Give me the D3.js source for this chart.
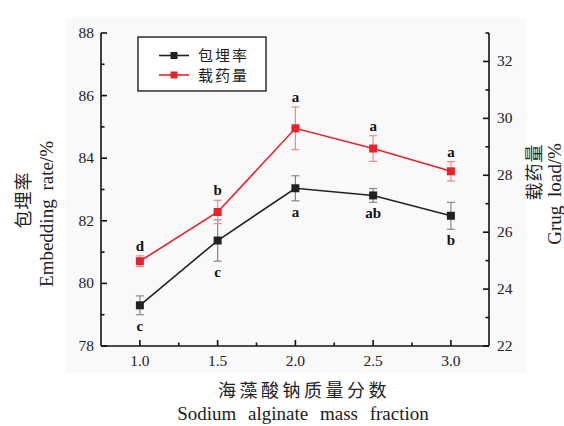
<!DOCTYPE html>
<html><head><meta charset="utf-8">
<script src="https://cdn.jsdelivr.net/npm/d3@7/dist/d3.min.js"></script>
<style>body{margin:0;background:#fff}svg{display:block}</style>
</head><body>
<script>
const xValues = [1.0, 1.5, 2.0, 2.5, 3.0];
const embedRate = [79.3, 81.37, 83.04, 82.81, 82.16];
const embedErr = [0.3, 0.66, 0.4, 0.22, 0.43];
const embedLetters = ["c", "c", "a", "ab", "b"];
const drugLoad = [24.98, 26.71, 29.65, 28.94, 28.14];
const drugErr = [0.19, 0.41, 0.75, 0.45, 0.34];
const drugLetters = ["d", "b", "a", "a", "a"];
const xTicks = [1.0, 1.5, 2.0, 2.5, 3.0];
const leftTicks = [78, 80, 82, 84, 86, 88];
const rightTicks = [22, 24, 26, 28, 30, 32];
const legendNames = ["包埋率", "载药量"];

const W = 564, H = 426;
const serif = "'Liberation Serif','DejaVu Serif',serif";
const cjk = "'Noto Sans CJK SC',sans-serif";
const svg = d3.select("body").append("svg").attr("width", W).attr("height", H);
svg.append("rect").attr("x", 65).attr("y", 18).attr("width", 462).attr("height", 355).attr("fill", "#f9f9f9");

const L = 101, R = 489, T = 33, B = 346;
const x = d3.scaleLinear().domain([0.75, 3.245]).range([L, R]);
const yL = d3.scaleLinear().domain([78, 88]).range([B, T]);
const yR = d3.scaleLinear().domain([22, 33]).range([B, T]);

// axes
const ax = svg.append("g").attr("stroke", "#111").attr("stroke-width", 1.6);
ax.append("line").attr("x1", L).attr("x2", L).attr("y1", T).attr("y2", B);
ax.append("line").attr("x1", R).attr("x2", R).attr("y1", T).attr("y2", B);
ax.append("line").attr("x1", L).attr("x2", R).attr("y1", B).attr("y2", B);

const minorL = d3.range(79, 88, 2);
const minorR = d3.range(23, 34, 2);
const minorX = [1.25, 1.75, 2.25, 2.75];
leftTicks.forEach(v => ax.append("line").attr("x1", L).attr("x2", L + 6).attr("y1", yL(v)).attr("y2", yL(v)));
minorL.forEach(v => ax.append("line").attr("x1", L).attr("x2", L + 3.5).attr("y1", yL(v)).attr("y2", yL(v)));
rightTicks.forEach(v => ax.append("line").attr("x1", R).attr("x2", R - 6).attr("y1", yR(v)).attr("y2", yR(v)));
minorR.forEach(v => ax.append("line").attr("x1", R).attr("x2", R - 3.5).attr("y1", yR(v)).attr("y2", yR(v)));
xTicks.forEach(v => ax.append("line").attr("x1", x(v)).attr("x2", x(v)).attr("y1", B).attr("y2", B - 6));
minorX.forEach(v => ax.append("line").attr("x1", x(v)).attr("x2", x(v)).attr("y1", B).attr("y2", B - 3.5));

const tl = svg.append("g").attr("font-family", serif).attr("font-size", 15.5).attr("fill", "#222");
leftTicks.forEach(v => tl.append("text").attr("x", L - 7).attr("y", yL(v) + 5).attr("text-anchor", "end").text(v));
rightTicks.forEach(v => tl.append("text").attr("x", R + 8).attr("y", yR(v) + 5).text(v));
xTicks.forEach(v => tl.append("text").attr("x", x(v)).attr("y", B + 20).attr("text-anchor", "middle").text(d3.format(".1f")(v)));

// axis titles
svg.append("text").attr("x", 304).attr("y", 397).attr("text-anchor", "middle").attr("font-family", cjk)
  .attr("font-size", 18).attr("letter-spacing", 3.5).attr("fill", "#222").text("海藻酸钠质量分数");
svg.append("text").attr("x", 303).attr("y", 420).attr("text-anchor", "middle").attr("font-family", serif)
  .attr("font-size", 19).attr("word-spacing", 7).attr("fill", "#222").text("Sodium alginate mass fraction");
svg.append("text").attr("transform", "translate(30,200) rotate(-90)").attr("text-anchor", "middle").attr("font-family", cjk)
  .attr("font-size", 18).attr("letter-spacing", 1).attr("fill", "#222").text("包埋率");
svg.append("text").attr("transform", "translate(53,214) rotate(-90)").attr("text-anchor", "middle").attr("font-family", serif)
  .attr("font-size", 19).attr("word-spacing", 4).attr("fill", "#222").text("Embedding rate/%");
svg.append("text").attr("transform", "translate(541,172) rotate(-90)").attr("text-anchor", "middle").attr("font-family", cjk)
  .attr("font-size", 18).attr("letter-spacing", 1).attr("fill", "#222").text("载药量");
svg.append("text").attr("transform", "translate(561,194) rotate(-90)").attr("text-anchor", "middle").attr("font-family", serif)
  .attr("font-size", 19).attr("word-spacing", 4).attr("fill", "#222").text("Grug load/%");

function series(vals, errs, letters, y, color, errColor, above) {
  const g = svg.append("g");
  const line = d3.line().x((d, i) => x(xValues[i])).y(d => y(d));
  g.append("path").attr("d", line(vals)).attr("fill", "none").attr("stroke", color).attr("stroke-width", 1.6);
  vals.forEach((v, i) => {
    const cx = x(xValues[i]);
    const top = y(v + errs[i]), bot = y(v - errs[i]);
    g.append("line").attr("x1", cx).attr("x2", cx).attr("y1", top).attr("y2", bot).attr("stroke", errColor).attr("stroke-width", 1.2);
    [top, bot].forEach(yy => g.append("line").attr("x1", cx - 4).attr("x2", cx + 4).attr("y1", yy).attr("y2", yy).attr("stroke", errColor).attr("stroke-width", 1.2));
    g.append("rect").attr("x", cx - 4).attr("y", y(v) - 4).attr("width", 8).attr("height", 8).attr("fill", color);
    g.append("text").attr("x", cx).attr("y", above ? top - 5 : bot + 16).attr("text-anchor", "middle")
      .attr("font-family", serif).attr("font-weight", "bold").attr("font-size", 15).attr("fill", "#111").text(letters[i]);
  });
}
series(embedRate, embedErr, embedLetters, yL, "#222", "#888", false);
series(drugLoad, drugErr, drugLetters, yR, "#e8222a", "#f08a8a", true);

// legend
const lg = svg.append("g");
lg.append("rect").attr("x", 138).attr("y", 37).attr("width", 128).attr("height", 54).attr("fill", "#fff").attr("stroke", "#111").attr("stroke-width", 1.3);
[["#222", 55.5], ["#e8222a", 75]].forEach((c, i) => {
  lg.append("line").attr("x1", 159).attr("x2", 189).attr("y1", c[1]).attr("y2", c[1]).attr("stroke", c[0]).attr("stroke-width", 1.6);
  lg.append("rect").attr("x", 170.5).attr("y", c[1] - 3.5).attr("width", 7).attr("height", 7).attr("fill", c[0]);
  lg.append("text").attr("x", 198).attr("y", c[1] + 5.5).attr("font-family", cjk).attr("font-size", 15).attr("letter-spacing", 2).attr("fill", "#222").text(legendNames[i]);
});
</script>
</body></html>
